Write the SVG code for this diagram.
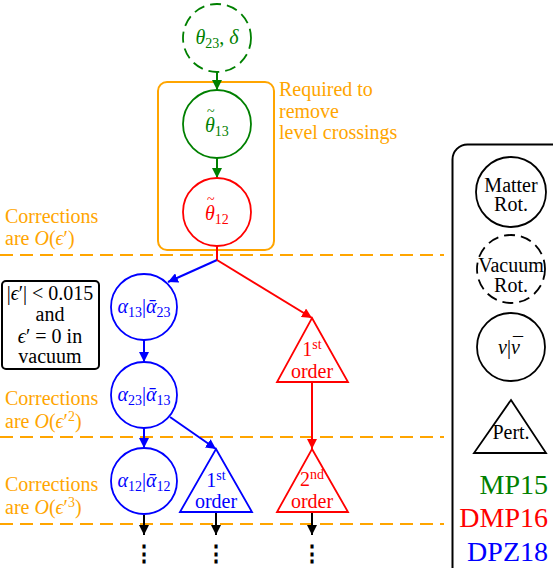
<svg xmlns="http://www.w3.org/2000/svg" width="553" height="568" viewBox="0 0 553 568">
<style>
text{font-family:'Liberation Serif','Times New Roman',Tinos,'DejaVu Serif','Noto Serif',serif;font-size:20px}
.m{font-style:italic}
.s{font-size:14px}
.c{text-anchor:middle}
.g{fill:#008000}.r{fill:#ff0000}.b{fill:#0000ff}.o{fill:#ffa500}.k{fill:#000}
.acc{font-size:14px;font-style:normal}
.node{fill:none;stroke-width:1.8}
.dash{stroke:#ffa500;stroke-width:2;stroke-dasharray:13 7;fill:none}
.e{fill:none;stroke-width:2}
.dots{font-family:'DejaVu Serif',serif;font-weight:bold;font-size:22px;text-anchor:middle;fill:#000}
</style>
<defs>
<marker id="ag" viewBox="0 0 10 10" refX="10" refY="5" markerWidth="5" markerHeight="5" orient="auto"><path d="M0,0 L10,5 L0,10 z" fill="#008000"/></marker>
<marker id="ar" viewBox="0 0 10 10" refX="10" refY="5" markerWidth="5" markerHeight="5" orient="auto"><path d="M0,0 L10,5 L0,10 z" fill="#ff0000"/></marker>
<marker id="ab" viewBox="0 0 10 10" refX="10" refY="5" markerWidth="5" markerHeight="5" orient="auto"><path d="M0,0 L10,5 L0,10 z" fill="#0000ff"/></marker>
<marker id="ak" viewBox="0 0 10 10" refX="10" refY="5" markerWidth="5" markerHeight="5" orient="auto"><path d="M0,0 L10,5 L0,10 z" fill="#000"/></marker>
</defs>

<g id="separators">
<line class="dash" x1="0" y1="255" x2="444" y2="255"/>
<line class="dash" x1="0" y1="437" x2="444" y2="437"/>
<line class="dash" x1="0" y1="524" x2="444" y2="524"/>
</g>

<g id="annotations">
<rect x="158" y="82" width="116" height="168" rx="9" fill="none" stroke="#ffa500" stroke-width="2"/>
<text class="o" x="279" y="96">Required to</text>
<text class="o" x="279" y="118">remove</text>
<text class="o" x="279" y="139">level crossings</text>
<text class="o" x="5" y="223">Corrections</text>
<text class="o" x="5" y="245">are <tspan class="m">O</tspan>(<tspan class="m">ϵ</tspan>′)</text>
<text class="o" x="5" y="405">Corrections</text>
<text class="o" x="5" y="428">are <tspan class="m">O</tspan>(<tspan class="m">ϵ</tspan>′<tspan class="s" dy="-7">2</tspan><tspan dy="7">)</tspan></text>
<text class="o" x="5" y="491">Corrections</text>
<text class="o" x="5" y="514">are <tspan class="m">O</tspan>(<tspan class="m">ϵ</tspan>′<tspan class="s" dy="-7">3</tspan><tspan dy="7">)</tspan></text>
</g>

<g id="note">
<rect x="2" y="281" width="97" height="88" rx="4" fill="none" stroke="#000" stroke-width="2"/>
<text class="c k" x="50" y="300">|<tspan class="m">ϵ</tspan>′| &lt; 0.015</text>
<text class="c k" x="50" y="321">and</text>
<text class="c k" x="50" y="343"><tspan class="m">ϵ</tspan>′ = 0 in</text>
<text class="c k" x="50" y="363">vacuum</text>
</g>

<g id="connectors">
<line class="e" stroke="#008000" x1="217" y1="72" x2="217" y2="90" marker-end="url(#ag)"/>
<line class="e" stroke="#008000" x1="217" y1="158" x2="217" y2="178" marker-end="url(#ag)"/>
<line class="e" stroke="#ff0000" x1="217" y1="246" x2="217" y2="260"/>
<line class="e" stroke="#0000ff" x1="217" y1="260" x2="168" y2="282" marker-end="url(#ab)"/>
<line class="e" stroke="#ff0000" x1="217" y1="260" x2="312" y2="318" marker-end="url(#ar)"/>
<line class="e" stroke="#0000ff" x1="144" y1="340" x2="144" y2="362" marker-end="url(#ab)"/>
<line class="e" stroke="#ff0000" x1="312" y1="382" x2="312" y2="449" marker-end="url(#ar)"/>
<line class="e" stroke="#0000ff" x1="144" y1="428" x2="144" y2="448" marker-end="url(#ab)"/>
<line class="e" stroke="#0000ff" x1="170" y1="417" x2="216" y2="449" marker-end="url(#ab)"/>
<line class="e" stroke="#000" x1="144" y1="515" x2="144" y2="535" marker-end="url(#ak)"/>
<line class="e" stroke="#000" x1="216" y1="512" x2="216" y2="535" marker-end="url(#ak)"/>
<line class="e" stroke="#000" x1="312" y1="512" x2="312" y2="535" marker-end="url(#ak)"/>
</g>

<g id="n-theta23">
<circle class="node" cx="217" cy="38" r="34" stroke="#008000" stroke-dasharray="11 6"/>
<text class="c g" x="217" y="44"><tspan class="m">θ</tspan><tspan class="s" dy="4">23</tspan><tspan dy="-4">, </tspan><tspan class="m">δ</tspan></text>
</g>
<g id="n-theta13">
<circle class="node" cx="217" cy="124" r="34" stroke="#008000"/>
<text class="g" x="205" y="132"><tspan class="m">θ</tspan><tspan class="s" dy="4">13</tspan></text>
<text class="g acc" x="207" y="116">~</text>
</g>
<g id="n-theta12">
<circle class="node" cx="217" cy="212" r="34" stroke="#ff0000"/>
<text class="r" x="205" y="220"><tspan class="m">θ</tspan><tspan class="s" dy="4">12</tspan></text>
<text class="r acc" x="207" y="204">~</text>
</g>
<g id="n-a13">
<circle class="node" cx="144" cy="307" r="33" stroke="#0000ff"/>
<text class="c b" x="144" y="313"><tspan class="m">α</tspan><tspan class="s" dy="4">13</tspan><tspan dy="-4">|</tspan><tspan class="m">ᾱ</tspan><tspan class="s" dy="4">23</tspan></text>
</g>
<g id="n-a23">
<circle class="node" cx="144" cy="395" r="33" stroke="#0000ff"/>
<text class="c b" x="144" y="401"><tspan class="m">α</tspan><tspan class="s" dy="4">23</tspan><tspan dy="-4">|</tspan><tspan class="m">ᾱ</tspan><tspan class="s" dy="4">13</tspan></text>
</g>
<g id="n-a12">
<circle class="node" cx="144" cy="481" r="33" stroke="#0000ff"/>
<text class="c b" x="144" y="487"><tspan class="m">α</tspan><tspan class="s" dy="4">12</tspan><tspan dy="-4">|</tspan><tspan class="m">ᾱ</tspan><tspan class="s" dy="4">12</tspan></text>
</g>
<g id="n-red1">
<polygon class="node" points="312,318 348,382 277,382" stroke="#ff0000"/>
<text class="c r" x="312" y="356">1<tspan class="s" dy="-7">st</tspan></text>
<text class="c r" x="312" y="378">order</text>
</g>
<g id="n-red2">
<polygon class="node" points="312,449 348,512 277,512" stroke="#ff0000"/>
<text class="c r" x="312" y="486">2<tspan class="s" dy="-7">nd</tspan></text>
<text class="c r" x="312" y="508">order</text>
</g>
<g id="n-blue1">
<polygon class="node" points="216,449 252,512 180,512" stroke="#0000ff"/>
<text class="c b" x="216" y="487">1<tspan class="s" dy="-7">st</tspan></text>
<text class="c b" x="216" y="508">order</text>
</g>
<g id="dots">
<text class="dots" x="144" y="561">⋮</text>
<text class="dots" x="216" y="561">⋮</text>
<text class="dots" x="312" y="561">⋮</text>
</g>

<g id="legend">
<rect x="452.5" y="144.5" width="200" height="500" rx="15" fill="none" stroke="#000" stroke-width="2"/>
<g id="l-matter">
<circle class="node" cx="511" cy="192" r="35" stroke="#000"/>
<text class="c k" x="511" y="192">Matter</text>
<text class="c k" x="511" y="211">Rot.</text>
</g>
<g id="l-vacuum">
<circle class="node" cx="511" cy="269" r="34" stroke="#000" stroke-dasharray="11 6"/>
<text class="c k" x="511" y="272">Vacuum</text>
<text class="c k" x="511" y="292">Rot.</text>
</g>
<g id="l-nu">
<circle class="node" cx="511" cy="347" r="34" stroke="#000"/>
<text class="k" x="498" y="354"><tspan class="m">ν</tspan>|<tspan class="m">ν</tspan></text>
<text class="k" x="513" y="352">¯</text>
</g>
<g id="l-pert">
<polygon class="node" points="511,400 546,453 474,453" stroke="#000"/>
<text class="c k" x="511" y="439">Pert.</text>
</g>
<text class="g" x="548" y="494" text-anchor="end" style="font-size:28px">MP15</text>
<text class="r" x="548" y="527" text-anchor="end" style="font-size:28px">DMP16</text>
<text class="b" x="548" y="561" text-anchor="end" style="font-size:28px">DPZ18</text>
</g>
</svg>
